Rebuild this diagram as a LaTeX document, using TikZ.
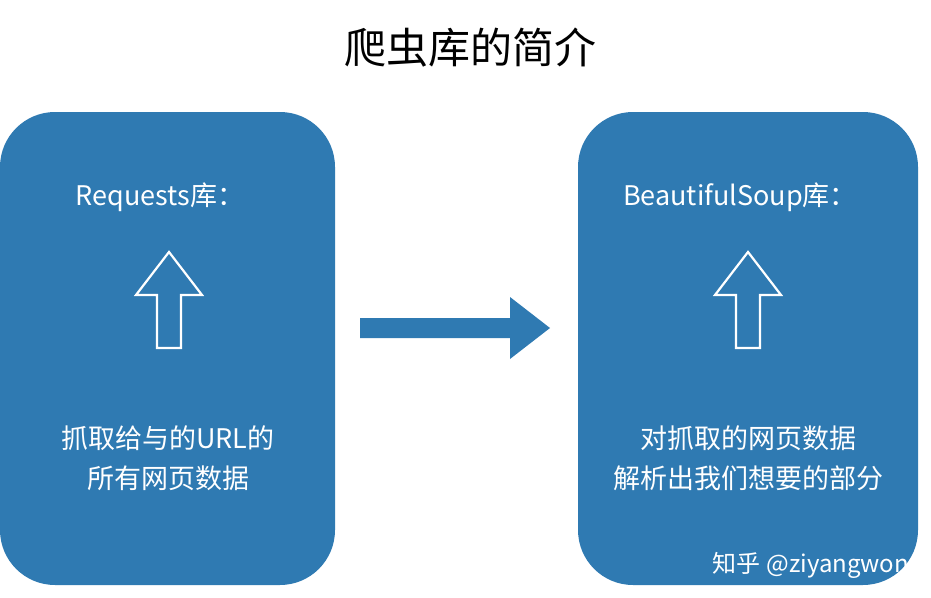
\documentclass[tikz,border=0pt]{standalone}
\usepackage{fontspec}
\setmainfont{Noto Sans CJK SC}
\usetikzlibrary{positioning}
\definecolor{boxblue}{HTML}{2F7AB2}
\tikzset{
  libbox/.style={fill=boxblue, rounded corners=55pt},
  libtext/.style={text=white, font=\fontsize{27}{40}\selectfont, align=center},
  uparrow/.style={draw=white, line width=2.2pt, fill=boxblue}
}
\begin{document}
\begin{tikzpicture}[x=1pt,y=-1pt]
        \useasboundingbox (0,0) rectangle (931,597);
        \node (title) at (470,48) {\fontsize{42}{48}\selectfont 爬虫库的简介};
        % two library boxes
        \fill[libbox] (0,112) rectangle (335,585);
        \fill[libbox] (578,112) rectangle (918,585);
        \node[libtext] (req) at (160,197) {Requests库：};
        \node[libtext] (bs) at (740,197) {BeautifulSoup库：};
        \node[libtext] (reqtxt) at (168,458) {抓取给与的URL的\\所有网页数据};
        \node[libtext] (bstxt) at (748,458) {对抓取的网页数据\\解析出我们想要的部分};
        % hollow up arrows
        \foreach \cx in {169,748} {
          \draw[uparrow] (\cx-12,348) -- (\cx-12,295) -- (\cx-33,295) -- (\cx,252)
            -- (\cx+33,295) -- (\cx+12,295) -- (\cx+12,348) -- cycle;
        }
        % middle arrow
        \fill[boxblue] (360,318) -- (510,318) -- (510,297) -- (550,328) -- (510,359)
          -- (510,338) -- (360,338) -- cycle;
        \node[text=white, font=\fontsize{24}{28}\selectfont, anchor=east] (mark) at (926,565) {知乎 @ziyangwong};
    \end{tikzpicture}
\end{document}
